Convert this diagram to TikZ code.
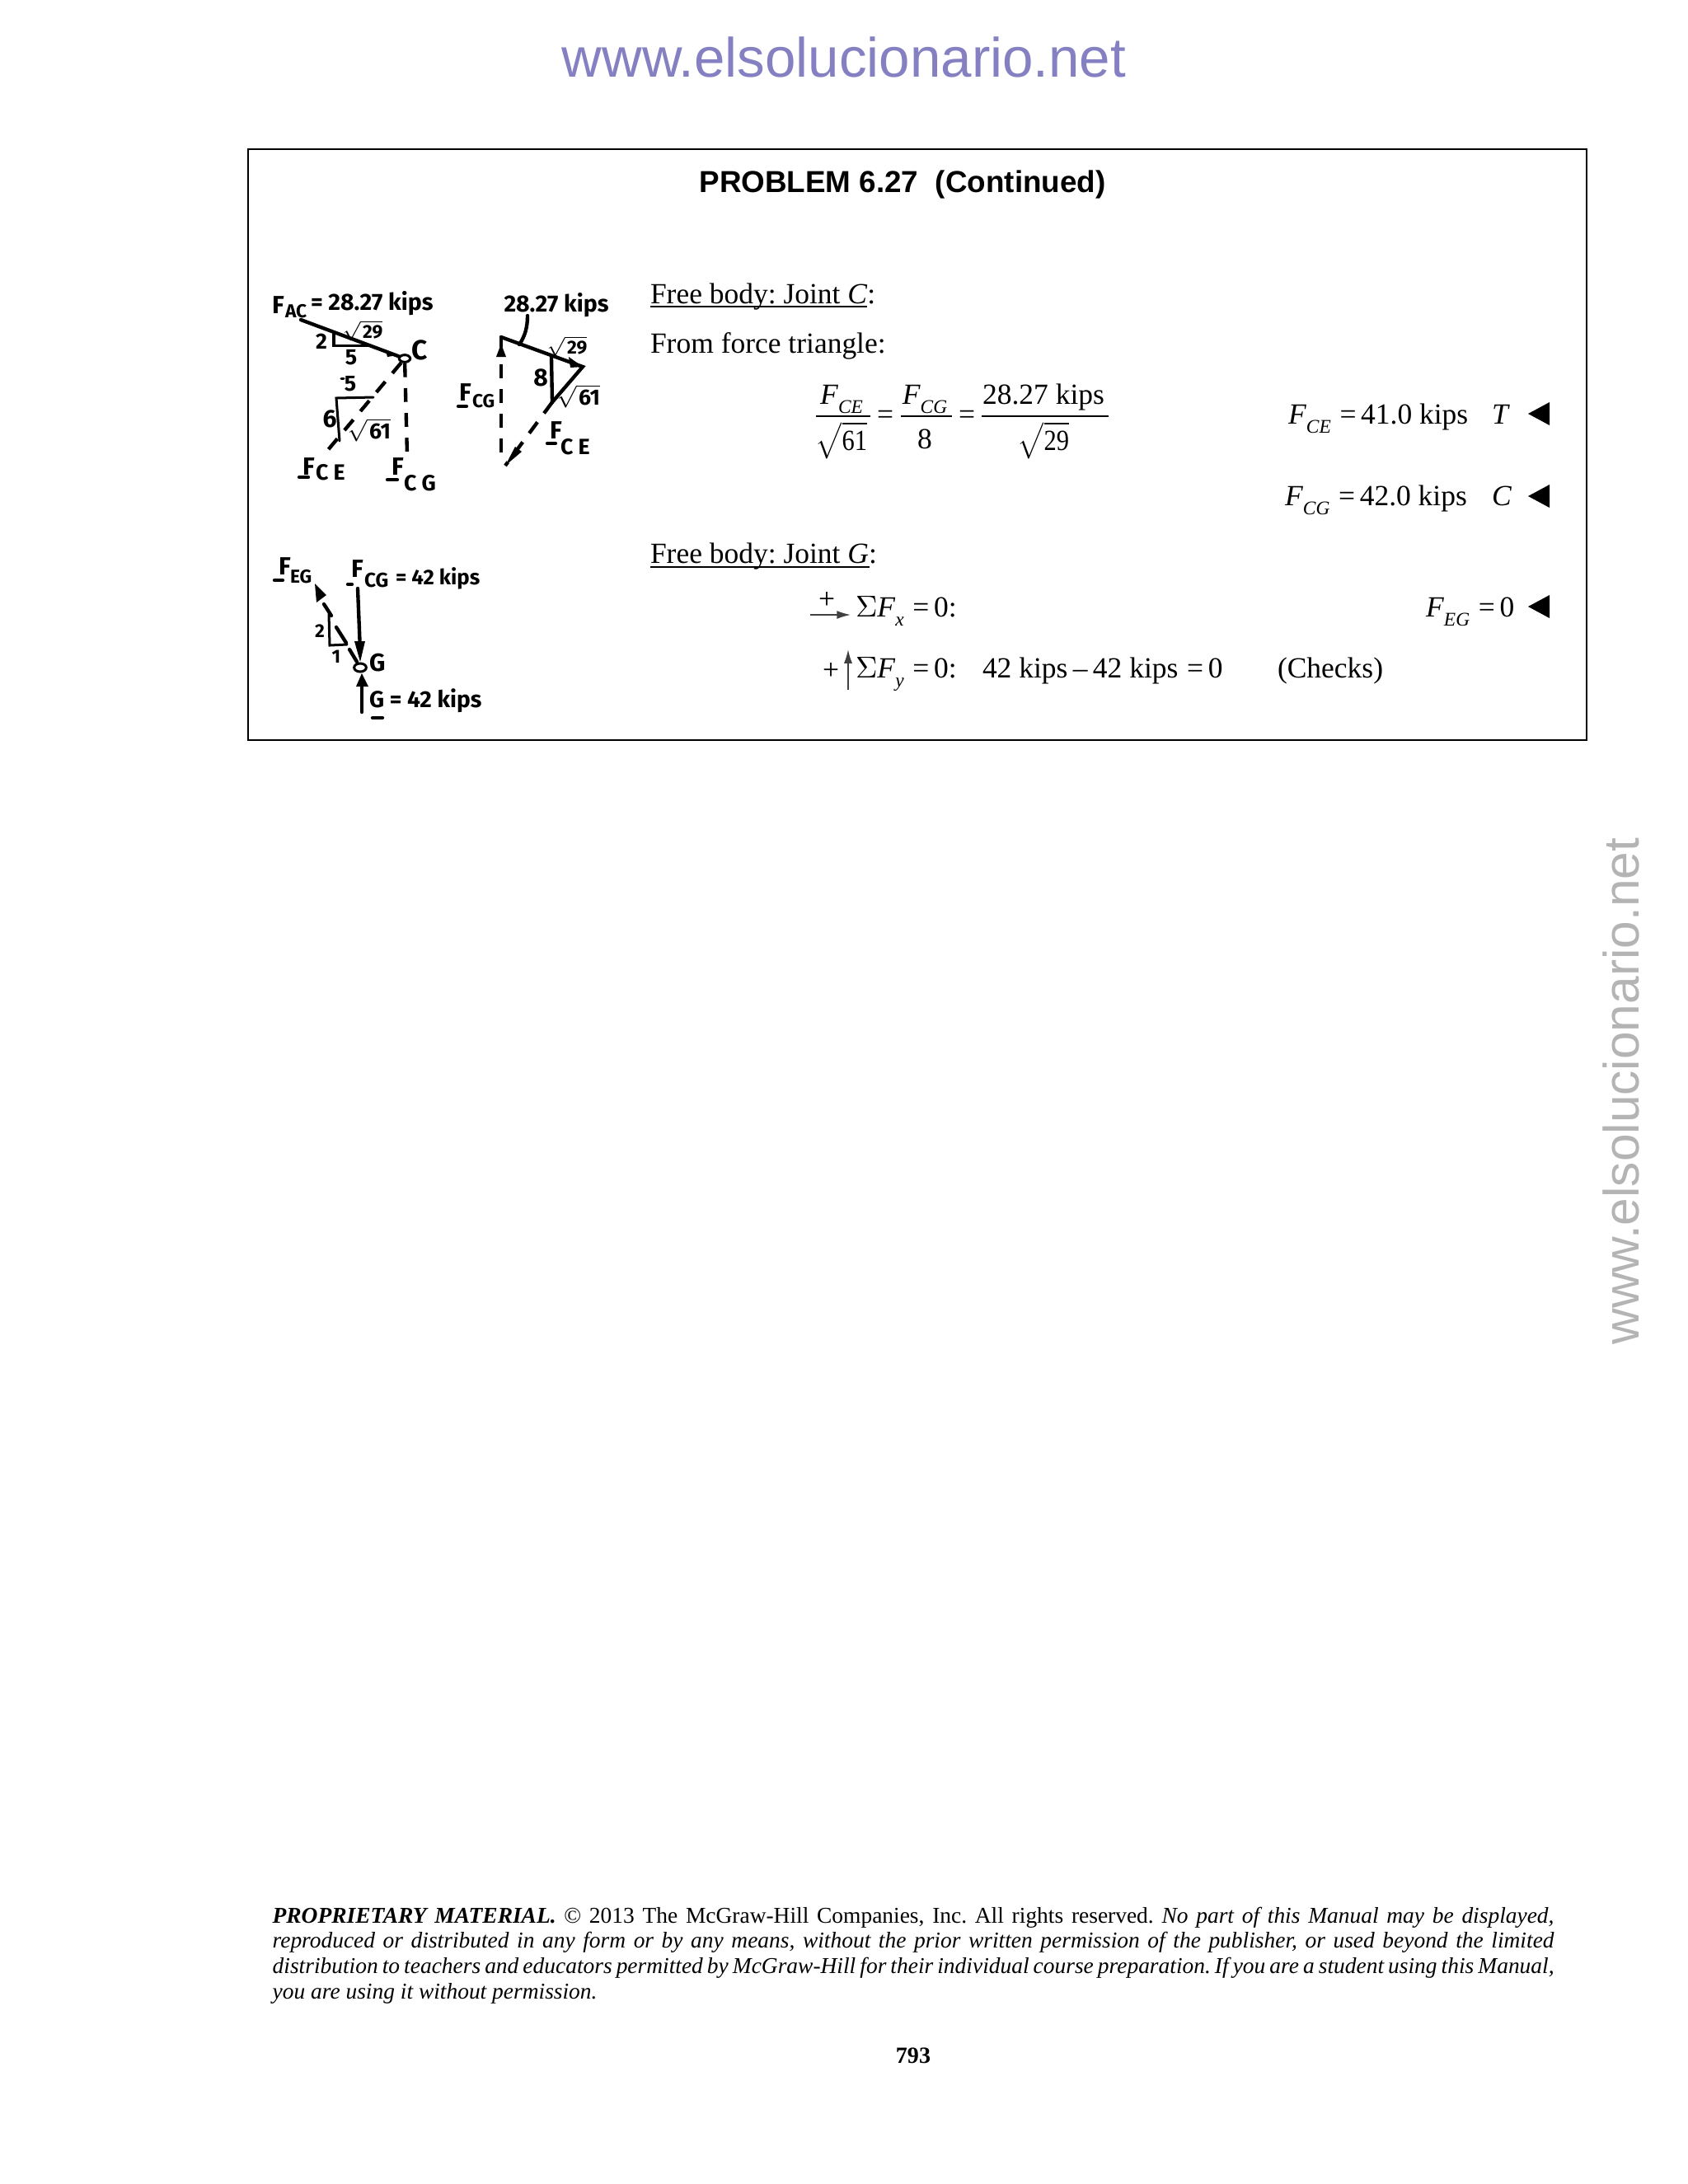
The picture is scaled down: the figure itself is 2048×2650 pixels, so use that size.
\documentclass[tikz,border=0pt]{standalone}
\usepackage{fontspec}
\usepackage{amsmath}
\usetikzlibrary{arrows.meta,shapes.geometric}
\setmainfont{Liberation Serif}
\setsansfont{Liberation Sans}
\newfontfamily\handfont{Fira Sans}[UprightFont=* Bold]
\definecolor{wmblue}{HTML}{8480C2}
\definecolor{wmgrey}{HTML}{B4B4B4}
\newcommand{\Mv}[1]{\textit{#1}}
\newcommand{\Fs}[1]{\textit{F}\raisebox{-0.32em}{\scalebox{0.66}{\textit{#1}}}}
\newcommand{\Eq}{\hspace{0.3em}=\hspace{0.16em}}
\newcommand{\Rt}[1]{\scalebox{0.86}[1]{$\sqrt{\mathstrut\text{#1}}$}}
\frenchspacing
\tikzset{
  x=0.2988pt,y=-0.2988pt,
  txt/.style={anchor=base west,inner sep=0,outer sep=0,font=\fontsize{10.6}{13}\selectfont},
  txtc/.style={anchor=base,inner sep=0,outer sep=0,font=\fontsize{10.6}{13}\selectfont},
  hand/.style={inner sep=0,outer sep=0,font=\handfont\fontsize{9}{9}\selectfont},
  handS/.style={inner sep=0,outer sep=0,font=\handfont\fontsize{6.8}{7}\selectfont},
  handM/.style={inner sep=0,outer sep=0,font=\handfont\fontsize{8}{8}\selectfont},
  pen/.style={line width=1.3pt,line cap=round,black},
  penD/.style={line width=1.3pt,dash pattern=on 5pt off 4pt,black},
  thin pen/.style={line width=0.9pt,line cap=round,black},
  tip/.style={fill=black,draw=none},
  rule/.style={line width=0.55pt,black},
  ans/.style={fill=black,draw=none},
  sense/.style={line width=0.5pt,black!75,-{Latex[length=5pt,width=3pt]}},
  joint/.style={draw,ellipse,line width=0.9pt,inner sep=0,fill=white},
}
\begin{document}
\begin{tikzpicture}
\useasboundingbox (0,0) rectangle (2048,2650);
\fill[white] (0,0) rectangle (2048,2650);
% watermarks
\node[anchor=base,inner sep=0,text=wmblue,font=\sffamily\fontsize{20.1}{22}\selectfont] (wmtop) at (1024,93) {www.elsolucionario.net};
\node[anchor=base west,inner sep=0,text=wmgrey,rotate=90,font=\sffamily\fontsize{18.05}{22}\selectfont] (wmside) at (1988,1632) {www.elsolucionario.net};
% frame
\draw[line width=0.7pt] (301,181) rectangle (1925,898);
\node[anchor=base,inner sep=0,font=\sffamily\bfseries\fontsize{11}{14}\selectfont] (title) at (1095,233) {PROBLEM 6.27\ \ (Continued)};
% text
\node[txt] (fbc) at (789,368) {Free body: Joint \Mv{C}:};
\draw[rule] (789,372) -- (1052,372);
\node[txt] (fft) at (789,428) {From force triangle:};
% fractions
\draw[rule] (990,505) -- (1056,505);
\draw[rule] (1093,505) -- (1155,505);
\draw[rule] (1191,505) -- (1345,505);
\node[txtc] (n1) at (1021,490) {\Fs{CE}};
\node[txtc] (n2) at (1122,490) {\Fs{CG}};
\node[txtc] (n3) at (1266,490) {28.27 kips};
\node[txtc] (e1) at (1074,514) {=};
\node[txtc] (e2) at (1173,514) {=};
\node[txtc] (d1) at (1021,546) {\Rt{61}};
\node[txtc] (d2) at (1122,544) {8};
\node[txtc] (d3) at (1266,546) {\Rt{29}};
% answers
\node[txt] (a1) at (1563,514) {\Fs{CE}\Eq 41.0 kips};
\node[txt] (a1t) at (1810,514) {\Mv{T}};
\fill[ans] (1854,502) -- (1880,488) -- (1880,516) -- cycle;
\node[txt] (a2) at (1559,613) {\Fs{CG}\Eq 42.0 kips};
\node[txt] (a2c) at (1810,613) {\Mv{C}};
\fill[ans] (1854,602) -- (1880,588) -- (1880,616) -- cycle;
\node[txt] (fbg) at (789,683) {Free body: Joint \Mv{G}:};
\draw[rule] (789,688) -- (1055,688);
% sum x
\node[anchor=center,inner sep=0,font=\fontsize{10.6}{13}\selectfont] (px) at (1003,728) {+};
\coordinate (sxa) at (983,746);
\coordinate (sxb) at (1032,746);
\draw[sense] (sxa) -- (sxb);
\node[txt] (sx) at (1038,748) {$\Sigma$\Fs{x}\Eq 0:};
\node[txt] (fe) at (1730,748) {\Fs{EG}\Eq 0};
\fill[ans] (1854,736) -- (1880,722) -- (1880,750) -- cycle;
% sum y
\node[anchor=center,inner sep=0,font=\fontsize{10.6}{13}\selectfont] (py) at (1008,814) {+};
\coordinate (sya) at (1029,837);
\coordinate (syb) at (1029,788);
\draw[sense] (sya) -- (syb);
\node[txt] (sy) at (1038,822) {$\Sigma$\Fs{y}\Eq 0:};
\node[txt] (ky) at (1192,822) {42 kips\hspace{0.18em}--\hspace{0.18em}42 kips\Eq 0};
\node[txt] (ch) at (1550,822) {(Checks)};
% Footer
\node[anchor=base west,inner sep=0,text width=464.6pt,align=justify,font=\fontsize{8.2}{9.17}\selectfont] (foot) at (330,2333) {\textbf{\textit{PROPRIETARY MATERIAL.}} © 2013 The McGraw-Hill Companies, Inc. All rights reserved. \textit{No part of this Manual may be displayed,\linebreak reproduced or distributed in any form or by any means, without the prior written permission of the publisher, or used beyond the limited\linebreak distribution to teachers and educators permitted by McGraw-Hill for their individual course preparation. If you are a student using this Manual,\linebreak you are using it without permission.}};
\node[anchor=center,inner sep=0,font=\bfseries\fontsize{8.4}{11}\selectfont] (pg) at (1108,2494) {793};

% --- hand FBD C
\node[hand,anchor=west] (h1) at (330,370) {F};
\node[handS,anchor=west] (h1b) at (346,378) {AC};
\node[handM,anchor=west,font=\handfont\fontsize{8.5}{9}\selectfont] (h1c) at (377,368) {= 28.27 kips};
\coordinate (cl0) at (365,388);
\node[joint,minimum width=4pt,minimum height=2.6pt] (cjoint) at (491,435) {};
\draw[pen] (cl0) -- (cjoint);
\fill[tip] (482,431) -- (468,425) -- (470,433) -- cycle;
\node[inner sep=0,anchor=west,font=\handfont\fontsize{10}{10}\selectfont] (clab) at (499,425) {C};
\draw[thin pen] (405,405) -- (405,419) -- (447,419);
\node[handS] (t29) at (440,401) {$\sqrt{\phantom{29}}$\llap{29}};
\node[handM] (t2) at (390,414) {2};
\node[handM] (t5) at (426,434) {5};
\coordinate (ce1) at (397,547);
\coordinate (cg1) at (494,552);
\draw[penD] (cjoint) -- (ce1);
\draw[penD] (cjoint) -- (cg1);
\draw[thin pen] (453,482) -- (408,483) -- (412,535);
\node[handM] (t52) at (425,466) {5};
\draw[thin pen] (414,459) -- (417,459);
\node[hand] (t6) at (400,508) {6};
\node[handM] (t61) at (448,522) {$\sqrt{\phantom{61}}$\llap{61}};
\node[hand,anchor=west] (fce) at (367,566) {F};
\draw[pen] (363,579) -- (374,579);
\node[handM,anchor=west] (fceb) at (383,573) {C E};
\node[hand,anchor=west] (fcg) at (475,566) {F};
\draw[pen] (470,582) -- (482,582);
\node[handM,anchor=west] (fcgb) at (490,586) {C G};

% --- force triangle
\node[handM,font=\handfont\fontsize{8.5}{9}\selectfont] (r1) at (675,370) {28.27 kips};
\coordinate (ra) at (608,409);
\coordinate (rb) at (707,445);
\coordinate (rc) at (670,488);
\coordinate (rd) at (613,565);
\coordinate (rl) at (630,418);
\draw[pen] (ra) -- (rb) -- (rc);
\draw[pen] (rl) .. controls (637,408) and (640,397) .. (640,383);
\draw[pen] (669,433) -- (rc);
\fill[tip] (rb) -- (690,433) -- (692,446) -- cycle;
\draw[pen] (ra) -- (608,420);
\fill[tip] (608,417) -- (602,433) -- (614,433) -- cycle;
\draw[penD] (608,442) -- (608,560);
\draw[penD] (rc) -- (rd);
\fill[tip] (rd) -- (625,542) -- (633,548) -- cycle;
\node[handS] (r29) at (688,420) {$\sqrt{\phantom{29}}$\llap{29}};
\node[hand] (r8) at (656,458) {8};
\node[handM] (r61) at (702,481) {$\sqrt{\phantom{61}}$\llap{61}};
\node[hand,anchor=west] (rfcg) at (557,476) {F};
\draw[pen] (556,493) -- (566,493);
\node[handS,anchor=west] (rfcgb) at (573,487) {CG};
\node[hand,anchor=west] (rfce) at (667,522) {F};
\draw[pen] (664,538) -- (674,538);
\node[handM,anchor=west] (rfceb) at (680,542) {C E};

% --- FBD G
\node[hand,anchor=west] (gf1) at (338,687) {F};
\draw[pen] (333,704) -- (343,704);
\node[handS,anchor=west] (gf1b) at (352,700) {EG};
\node[hand,anchor=west] (gf2) at (426,690) {F};
\draw[pen] (422,709) -- (427,709);
\node[handS,anchor=west,font=\handfont\fontsize{7.3}{8}\selectfont] (gf2b) at (442,704) {CG};
\node[handS,anchor=west,font=\handfont\fontsize{7.7}{8}\selectfont] (gf2c) at (480,702) {= 42 kips};
\node[joint,minimum width=4.4pt,minimum height=3pt] (gj) at (437,810) {};
\coordinate (gt) at (434,714);
\draw[pen] (gt) -- (437,790);
\fill[tip] (430,778) -- (443,778) -- (437,803) -- cycle;
\node[hand,anchor=west] (glab) at (448,804) {G};
\coordinate (gb) at (439,864);
\draw[pen] (gb) -- (439,830);
\fill[tip] (439,817) -- (432,833) -- (447,833) -- cycle;
\node[hand,anchor=west,font=\handfont\fontsize{8.4}{8}\selectfont] (gg) at (448,850) {G = 42 kips};
\draw[pen] (452,871) -- (464,871);
\fill[tip] (382,708) -- (384,731) -- (396,722) -- cycle;
\draw[pen] (393,733) -- (402,747);
\draw[pen] (408,761) -- (420,780);
\draw[pen] (424,788) -- (433,803);
\draw[thin pen] (399,745) -- (400,783) -- (421,782);
\node[handS] (g2) at (388,766) {2};
\node[handS] (g1) at (408,797) {1};
\end{tikzpicture}
\end{document}
